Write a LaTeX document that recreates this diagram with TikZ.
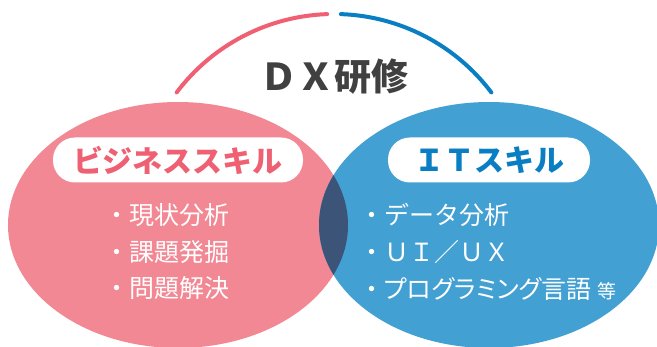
\documentclass[tikz,border=0pt]{standalone}
\usepackage{fontspec}
\setmainfont{Noto Sans CJK JP}
\usepackage{tikz}
\definecolor{pinkfill}{HTML}{F28894}
\definecolor{bluefill}{HTML}{42A0D3}
\definecolor{lensfill}{HTML}{3B5478}
\definecolor{pinkline}{HTML}{EE6072}
\definecolor{blueline}{HTML}{0A7EC3}
\definecolor{titlegray}{HTML}{404040}
\tikzstyle{skillbox}=[rounded corners=22pt,fill=white,inner sep=0pt,
                      minimum height=45pt,font=\fontsize{30}{32}\selectfont\bfseries]
\tikzstyle{item}=[anchor=west,inner sep=0pt,text=white,
                  font=\fontsize{25}{27}\selectfont]
\tikzstyle{bow}=[line width=4pt,line cap=round]

\begin{document}
\begin{tikzpicture}[x=1pt,y=1pt]
    \useasboundingbox (0,0) rectangle (657,346);
    % the two circles and their overlap
    \fill[pinkfill] (178,121) ellipse [x radius=170pt,y radius=123pt];
    \fill[bluefill] (489,121) ellipse [x radius=170pt,y radius=123pt];
    \begin{scope}
      \clip (178,121) ellipse [x radius=170pt,y radius=123pt];
      \fill[lensfill] (489,121) ellipse [x radius=170pt,y radius=123pt];
    \end{scope}
    % the bow over the title
    \coordinate (hub) at (334,135);
    \draw[bow,pinkline] ([shift={(143:197pt)}]hub) arc [start angle=143,end angle=92,radius=197pt];
    \draw[bow,blueline] ([shift={(88:197pt)}]hub) arc [start angle=88,end angle=37,radius=197pt];
    \node (dx) at (334,269) [text=titlegray,font=\fontsize{37}{40}\selectfont\bfseries]{ＤＸ研修};
    % labels
    \node (biz) at (178,186) [skillbox,minimum width=250pt,text=pinkline]{ビジネススキル};
    \node (it) at (489,186) [skillbox,minimum width=202pt,text=blueline]{ＩＴスキル};
    % items
    \node (b1) at (104,131) [item]{・現状分析};
    \node (b2) at (104,94) [item]{・課題発掘};
    \node (b3) at (104,58) [item]{・問題解決};
    \node (i1) at (359,131) [item]{・データ分析};
    \node (i2) at (359,94) [item]{・ＵＩ／ＵＸ};
    \node (i3) at (359,57) [item]{・{\addfontfeature{RawFeature=+palt}プログラミング}言語\hspace{6pt}{\fontsize{19}{20}\selectfont 等}};
\end{tikzpicture}
\end{document}
